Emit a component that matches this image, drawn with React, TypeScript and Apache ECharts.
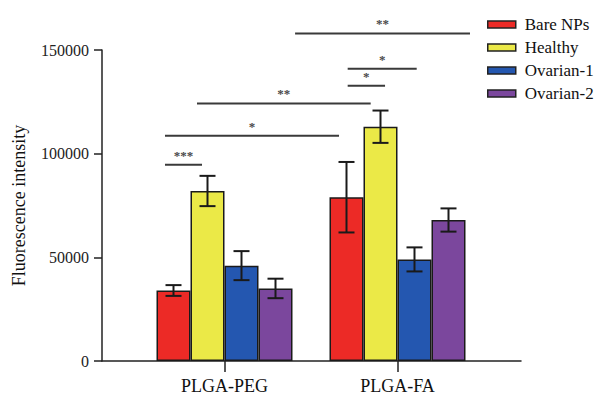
import React, { useEffect, useRef } from "react";
import * as echarts from "echarts";

const categories = ["PLGA-PEG", "PLGA-FA"];
const seriesNames = ["Bare NPs", "Healthy", "Ovarian-1", "Ovarian-2"];
const bareNPs = [34000, 79000];
const bareNPsErr = [2600, 17000];
const healthy = [82000, 113000];
const healthyErr = [7300, 7800];
const ovarian1 = [46000, 49000];
const ovarian1Err = [7000, 5800];
const ovarian2 = [35000, 68000];
const ovarian2Err = [4700, 5600];
const yTicks = [0, 50000, 100000, 150000];

// significance brackets (x in category-band units, y in data units)
const sigLabels = ["***", "*", "**", "*", "*", "**"];
const sigY = [94700, 108700, 124200, 132700, 141000, 158000];
const sigX1 = [0.156, 0.156, 0.341, 1.212, 1.212, 0.908];
const sigX2 = [0.37, 1.162, 1.345, 1.428, 1.611, 1.919];

const colors = ["#ec2a26", "#ebe947", "#2457b0", "#7b479d"];
const FONT = "Liberation Serif";

export default function App() {
  const ref = useRef<HTMLDivElement>(null);
  useEffect(() => {
    if (!ref.current) return;
    const chart = echarts.init(ref.current, undefined, { renderer: "svg" });
    const values = [bareNPs, healthy, ovarian1, ovarian2];
    const errs = [bareNPsErr, healthyErr, ovarian1Err, ovarian2Err];

    // layout
    const axisX = 102;
    const gridLeft = 138;
    const band = 173;
    const barW = 34;
    const axisEnd = 521;
    const W = 613;
    const top = 50;
    const bottom = 40;
    const barFrac = barW / band;
    const ovMin = (axisX - gridLeft) / band;
    const ovMax = (axisEnd - gridLeft) / band;

    const errData: number[][] = [];
    values.forEach((vals, s) => {
      vals.forEach((v, c) => {
        errData.push([c + 0.5 + (s - 1.5) * barFrac, v, errs[s][c]]);
      });
    });
    const sigData = sigLabels.map((l, i) => [sigX1[i], sigX2[i], sigY[i], i]);

    const option: any = {
      animation: false,
      backgroundColor: "#ffffff",
      grid: [
        { left: gridLeft, right: W - gridLeft - 2 * band, top, bottom },
        { left: axisX, right: W - axisEnd, top, bottom },
      ],
      legend: {
        orient: "vertical",
        left: 482,
        top: 11,
        itemWidth: 28,
        itemHeight: 7,
        itemGap: 6,
        icon: "rect",
        data: seriesNames,
        itemStyle: { borderColor: "#222", borderWidth: 1.5 },
        textStyle: { fontFamily: FONT, fontSize: 17, color: "#111", padding: [0, 0, 0, 4] },
      },
      xAxis: [
        {
          type: "category",
          gridIndex: 0,
          data: categories,
          axisLine: { show: false },
          axisTick: { show: true, alignWithLabel: true, length: 11, lineStyle: { color: "#222", width: 1.5 } },
          axisLabel: { fontFamily: FONT, fontSize: 18, color: "#111", margin: 16 },
        },
        {
          type: "value",
          gridIndex: 1,
          min: ovMin,
          max: ovMax,
          axisLine: { show: true, lineStyle: { color: "#222", width: 1.5 } },
          axisTick: { show: false },
          axisLabel: { show: false },
          splitLine: { show: false },
        },
      ],
      yAxis: [
        {
          type: "value",
          gridIndex: 0,
          min: yTicks[0],
          max: yTicks[yTicks.length - 1],
          interval: yTicks[1] - yTicks[0],
          offset: gridLeft - axisX,
          name: "Fluorescence intensity",
          nameLocation: "middle",
          nameGap: 74,
          nameTextStyle: { fontFamily: FONT, fontSize: 18, color: "#111" },
          axisLine: { show: true, lineStyle: { color: "#222", width: 1.5 } },
          axisTick: { show: true, length: 8, lineStyle: { color: "#222", width: 1.5 } },
          axisLabel: {
            fontFamily: FONT,
            fontSize: 16,
            color: "#222",
            margin: 13,
            formatter: (v: number) => String(v),
          },
          splitLine: { show: false },
        },
        {
          type: "value",
          gridIndex: 1,
          min: yTicks[0],
          max: yTicks[yTicks.length - 1],
          show: false,
        },
      ],
      series: [
        ...seriesNames.map((name, s) => ({
          type: "bar",
          name,
          xAxisIndex: 0,
          yAxisIndex: 0,
          data: values[s],
          barWidth: barW,
          barGap: "0%",
          itemStyle: { color: colors[s], borderColor: "#1a1a1a", borderWidth: 1.5 },
          z: 2,
        })),
        {
          type: "custom",
          xAxisIndex: 1,
          yAxisIndex: 1,
          z: 5,
          data: errData,
          renderItem: (params: any, api: any) => {
            const x = api.value(0);
            const v = api.value(1);
            const e = api.value(2);
            const t = api.coord([x, v + e]);
            const b = api.coord([x, v - e]);
            const cap = 8;
            const st = { stroke: "#1a1a1a", lineWidth: 2 };
            return {
              type: "group",
              children: [
                { type: "line", shape: { x1: t[0], y1: t[1], x2: b[0], y2: b[1] }, style: st },
                { type: "line", shape: { x1: t[0] - cap, y1: t[1], x2: t[0] + cap, y2: t[1] }, style: st },
                { type: "line", shape: { x1: b[0] - cap, y1: b[1], x2: b[0] + cap, y2: b[1] }, style: st },
              ],
            };
          },
        },
        {
          type: "custom",
          xAxisIndex: 1,
          yAxisIndex: 1,
          z: 5,
          clip: false,
          data: sigData,
          renderItem: (params: any, api: any) => {
            const p1 = api.coord([api.value(0), api.value(2)]);
            const p2 = api.coord([api.value(1), api.value(2)]);
            const label = sigLabels[api.value(3)];
            return {
              type: "group",
              children: [
                { type: "line", shape: { x1: p1[0], y1: p1[1], x2: p2[0], y2: p2[1] }, style: { stroke: "#3a3a3a", lineWidth: 2 } },
                {
                  type: "text",
                  x: (p1[0] + p2[0]) / 2,
                  y: p1[1] - 3,
                  style: {
                    text: label,
                    fill: "#4a4a4a",
                    fontFamily: FONT,
                    fontSize: 13,
                    fontWeight: "bold",
                    align: "center",
                    verticalAlign: "bottom",
                  },
                },
              ],
            };
          },
        },
      ],
    };
    chart.setOption(option);
    return () => chart.dispose();
  }, []);
  return <div ref={ref} style={{ width: 613, height: 401, position: "fixed", left: 0, top: 0 }} />;
}
